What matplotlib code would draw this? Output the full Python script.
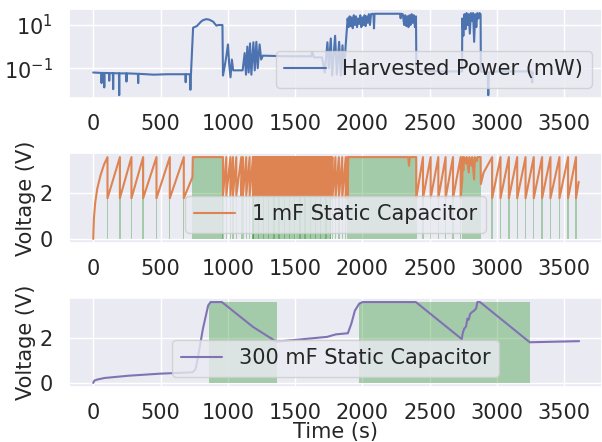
import numpy as np
import matplotlib
matplotlib.use('Agg')
import matplotlib.pyplot as plt
import seaborn as sns

# ---- harvested power (mW) as (time, log10 P) ----
p_time = [0, 60, 62, 64, 80, 82, 84, 117, 119, 121, 146, 148, 150, 191, 193, 195,
          245, 247, 249, 300, 332, 334, 336, 450, 550, 685, 687, 689, 718, 722, 726,
          742, 770, 800, 815, 840, 860, 890, 915, 930, 960, 964,
          977, 990, 1001, 1010, 1020, 1030, 1040, 1110, 1125, 1135, 1145, 1155, 1165,
          1175, 1190, 1200, 1212, 1222, 1236, 1248, 1260, 1450, 1620, 1627, 1640, 1700,
          1720, 1740, 1750, 1765, 1775, 1797, 1810, 1827, 1840, 1852, 1864, 1875,
          1890, 1898, 1905, 1912, 1920, 1928, 1936, 1944, 1952, 1960, 1968, 1976,
          1984, 1992, 2000, 2008, 2016, 2024, 2032, 2040, 2048, 2056, 2064,
          2074, 2082, 2086, 2090, 2280, 2284, 2288, 2300, 2310, 2318, 2326, 2334,
          2342, 2350, 2358, 2366, 2374, 2382, 2390, 2398, 2401, 2600, 2740,
          2742, 2750, 2758, 2766, 2774, 2782, 2790, 2798, 2806, 2814, 2822, 2830,
          2838, 2846, 2854, 2862, 2870, 2878, 2880, 2930, 2935, 2940, 3000, 3255,
          3261, 3265]
p_log = [-1.2, -1.22, -1.69, -1.22, -1.22, -1.89, -1.22, -1.23, -1.58, -1.23,
         -1.23, -1.97, -1.23, -1.24, -2.25, -1.24, -1.24, -1.62, -1.24, -1.25,
         -1.26, -1.69, -1.26, -1.3, -1.28, -1.28, -1.65, -1.28, -1.28, -2.0, -1.3,
         0.875, 0.95, 1.15, 1.22, 1.27, 1.25, 1.16, 0.97, 1.0, 1.0, -1.34,
         -0.9, -0.4, 0.1, -0.8, -1.42, -0.6, -1.1, -1.1, -0.3, -1.3, 0.0, -1.2, 0.15,
         -1.3, 0.2, -1.1, 0.22, -1.0, 0.1, -0.6, -0.42, -0.45, -0.45, -0.25, -0.5, -0.5,
         -1.2, 0.2, -1.0, 0.375, -1.34, 0.5, -1.3, 0.22, -1.34, 0.06, -1.3, 0.0,
         1.3, 0.9, 1.4, 0.95, 1.35, 0.85, 1.45, 1.0, 1.4, 0.9, 1.3, 1.05,
         1.45, 0.9, 1.35, 1.0, 1.45, 0.95, 1.4, 1.1, 1.5, 1.0, 1.5,
         1.52, 1.5, 0.84, 1.52, 1.52, 1.31, 1.52, 1.5, 1.0, 1.45, 0.95, 1.4,
         0.9, 1.45, 1.0, 1.5, 1.1, 1.45, 0.9, 1.4, -1.1, -1.15, -1.15,
         1.3, 0.5, 1.5, 0.8, 1.55, 1.0, 1.5, 0.6, 1.55, 1.2, 1.55, 0.22,
         1.5, 0.9, 1.55, 1.3, 1.55, 1.5, -1.15, -1.2, -2.25, -1.2, -1.15, -1.15,
         -1.66, -1.2]

# ---- 1 mF capacitor: reset times of the charge/discharge cycles ----
v_low, v_high = 1.78, 3.58
first_charge_t = [0, 5, 15, 30, 55, 80, 106]
first_charge_v = [0, 0.9, 1.6, 2.2, 2.8, 3.25, 3.58]
resets_a = [106, 198, 284, 371, 470, 569, 673]
resets_b = [964, 989, 1019, 1038, 1063, 1100, 1112, 1137, 1162, 1187]
dense_block = (1187, 1765, 180)          # start, end, number of cycles (solid band)
resets_d = [1765, 1777, 1800, 1825, 1850, 1876, 1890]
resets_e = [2400, 2450, 2507, 2564, 2618, 2673, 2730]
resets_f = [2964, 3026, 3088, 3150, 3212, 3273, 3335, 3397, 3464, 3528, 3587]
block_noise_t = [2744, 2750, 2755, 2770, 2775, 2790, 2795, 2810, 2815, 2830, 2835, 2850, 2855, 2878]
block_noise_v = [3.58, 3.0, 3.58, 3.3, 3.58, 2.9, 3.58, 3.2, 3.58, 2.6, 3.58, 3.4, 3.58, 3.58]
on_blocks_1mf = [(737, 964), (1187, 1765), (1890, 2400), (2742, 2878)]

# ---- 300 mF capacitor ----
v300_t = [0, 8, 30, 85, 264, 495, 738, 760, 777, 815, 854, 872, 956, 1187, 1354, 1370,
          1738, 1803, 1892, 1918, 1944, 1975, 2000, 2397, 2738, 2745, 2756, 2770, 2780,
          2790, 2800, 2815, 2830, 2845, 2854, 2874, 3243, 3610]
v300_v = [0, 0.1, 0.15, 0.22, 0.32, 0.41, 0.47, 0.6, 1.1, 2.4, 3.43, 3.58, 3.58, 2.48,
          1.85, 1.83, 2.04, 2.15, 2.2, 2.63, 3.2, 3.5, 3.58, 3.58, 1.94, 2.2, 2.4, 2.5,
          2.85, 2.8, 3.05, 3.14, 3.2, 3.3, 3.58, 3.58, 1.8, 1.85]
on_blocks_300mf = [(861, 1367), (1977, 3246)]


def saw(resets, lo, hi):
    t, v = [], []
    for a, b in zip(resets[:-1], resets[1:]):
        t += [a, b]
        v += [lo, hi]
    return t, v


dense_resets = list(np.linspace(*dense_block))
t1, v1 = list(first_charge_t), list(first_charge_v)
for part in [saw(resets_a, v_low, v_high),
             ([673, 737, 740, 964], [v_low, 2.7, v_high, v_high]),
             saw(resets_b, 1.9, v_high),
             saw(dense_resets, 1.9, v_high),
             saw(resets_d, v_low, v_high),
             ([1890, 1895, 2340, 2346, 2352, 2400], [v_low, v_high, v_high, 3.2, v_high, v_high]),
             saw(resets_e, v_low, v_high),
             ([2730, 2742], [v_low, 2.6]),
             (block_noise_t, block_noise_v),
             ([2880, 2900], [2.4, 2.9]),
             ([2964], [v_high]),
             saw(resets_f, v_low, v_high),
             ([3587, 3607], [v_low, 2.5])]:
    t1 += part[0]
    v1 += part[1]

# green pulse under every reset (only some in the dense band, which is shaded as a block)
pulse_times = resets_a + resets_b + dense_resets[::12] + resets_d + resets_e + resets_f
pulses = [(r - 5, 10) for r in pulse_times]

sns.set_theme(style='darkgrid')
plt.rcParams['font.family'] = ['DejaVu Sans']
fs = 15
plt.rcParams.update({'xtick.labelsize': fs, 'ytick.labelsize': fs,
                     'axes.labelsize': fs, 'legend.fontsize': fs,
                     'xtick.major.pad': 5.5, 'ytick.major.pad': 5.5})

c = sns.color_palette('deep')
green = 'green'

fig = plt.figure(figsize=(6.02, 4.42), dpi=100)
ax1 = fig.add_axes([69/602, 1-98/442, 533/602, 89/442])
ax2 = fig.add_axes([69/602, 1-243/442, 533/602, 90/442])
ax3 = fig.add_axes([69/602, 1-387/442, 533/602, 89/442])

ax1.plot(p_time, 10**np.array(p_log), color=c[0], label='Harvested Power (mW)')
ax1.set_yscale('log')
ax1.set_ylim(10**-2.38, 10**1.74)
ax1.set_yticks([0.1, 10])
ax1.minorticks_off()
ax1.legend(loc='lower right')

ax2.broken_barh(pulses, (0, v_high), facecolors=green, alpha=0.3, lw=0)
ax2.broken_barh([(a, b - a) for a, b in on_blocks_1mf], (0, v_high), facecolors=green, alpha=0.3, lw=0)
ax2.plot(t1, v1, color=c[1], label='1 mF Static Capacitor')
ax2.set_ylabel('Voltage (V)')
ax2.legend(loc='lower center')

ax3.broken_barh([(a, b - a) for a, b in on_blocks_300mf], (0, v_high), facecolors=green, alpha=0.3, lw=0)
ax3.plot(v300_t, v300_v, color=c[4], label='300 mF Static Capacitor')
ax3.set_ylabel('Voltage (V)')
ax3.set_xlabel('Time (s)', labelpad=-1)
ax3.legend(loc='lower center')

for ax in (ax1, ax2, ax3):
    ax.set_xlim(-180, 3780)
    ax.set_xticks(np.arange(0, 3501, 500))
for ax in (ax2, ax3):
    ax.set_ylim(-0.18, 3.76)
    ax.set_yticks([0, 2])
    ax.yaxis.set_label_coords(-0.062, 0.5)

fig.savefig('out.png', dpi=100)
